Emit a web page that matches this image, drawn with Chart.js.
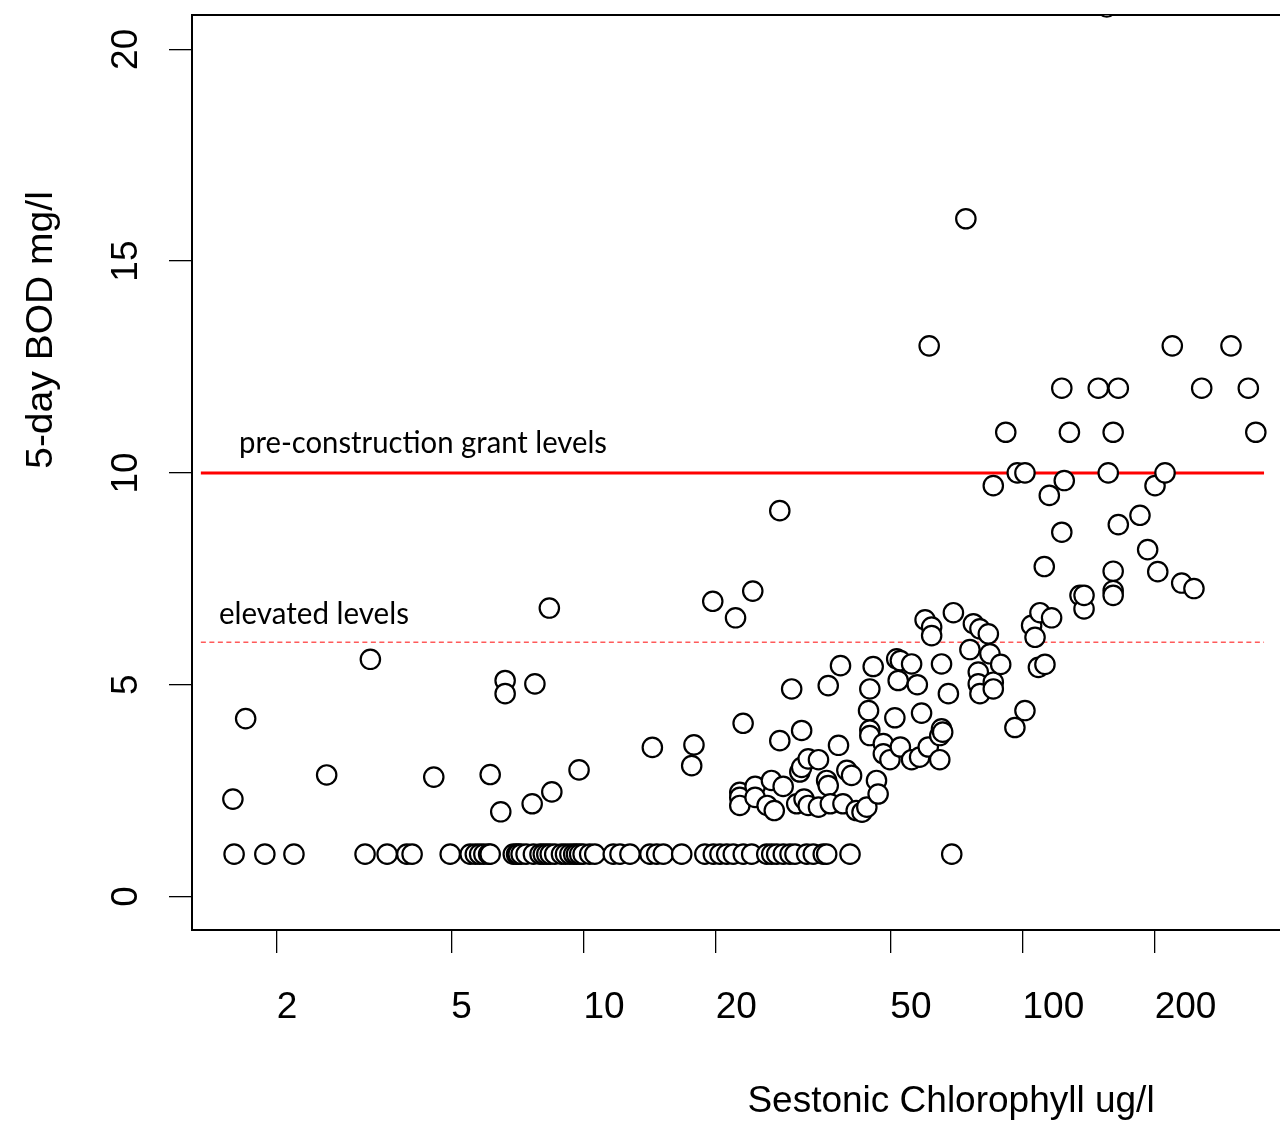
<!DOCTYPE html>
<html>
<head>
<meta charset="utf-8">
<title>5-day BOD vs sestonic chlorophyll</title>
<script src="https://cdn.jsdelivr.net/npm/chart.js@4.4.1/dist/chart.umd.min.js"></script>
<style>
  html, body { margin: 0; padding: 0; background: #fff; overflow: hidden; }
  #wrap { position: relative; width: 1280px; height: 1121px; }
</style>
</head>
<body>
<div id="wrap"><canvas id="bodChart"></canvas></div>
<script>
// Values (x = chlorophyll ug/l, y = 5-day BOD mg/l)
const chlorophyll = [
  // scattered low/mid points
  1.59, 1.70, 2.60, 3.27, 4.56, 6.13, 6.48, 6.63, 6.63, 7.75, 7.64, 8.36, 8.47, 9.77,
  14.35, 17.85, 17.64, 19.70, 22.2, 24.3, 28.0, 23.1, 28.0, 29.8, 31.4, 36.1, 38.5, 38.1,
  // cluster around 2-3 mg/l
  22.7, 22.7, 22.7, 24.6, 24.6, 26.2, 26.8, 27.2, 28.5, 30.6, 31.1, 31.4, 31.8, 32.5,
  32.5, 34.3, 34.3, 35.8, 36.1, 36.5, 39.0, 39.8, 40.8, 41.8, 43.1, 44.2, 46.5, 46.9,
  // 45-90 ug/l
  44.6, 44.9, 44.9, 44.9, 45.7, 48.2, 48.2, 49.9, 51.2, 51.7, 52.7, 52.1, 52.7, 55.9,
  55.9, 57.6, 58.9, 58.3, 60.0, 61.0, 62.1, 62.1, 64.8, 64.8, 65.4, 65.4, 65.8, 67.8,
  69.6, 75.9, 77.3, 80.0, 83.6, 79.3, 79.3, 80.0, 84.3, 85.8, 85.8, 89.2, 61.3, 74.3,
  // upper right
  85.8, 91.6, 97.3, 101.3, 96.1, 101.3, 104.9, 106.8, 108.7, 112.5, 109.6, 116.5, 112.1, 115.1,
  122.9, 124.5, 122.9, 127.9, 135.2, 138.1, 138.1, 148.8, 156.8, 160.9, 160.9, 160.9, 160.9, 165.3,
  165.3, 185.2, 192.8, 200.4, 203.3, 211.2, 219.4, 230.5, 245.8, 256, 298.5, 326.9, 340, 155.6,
  // detection-limit row
  1.60, 1.88, 2.19, 3.18, 3.57, 3.96, 4.07, 4.97, 5.52, 5.67, 5.80, 5.93, 6.08, 6.13, 6.92,
  7.04, 7.10, 7.21, 7.40, 7.69, 7.96, 8.10, 8.25, 8.40, 8.60, 8.91, 9.10, 9.31, 9.50, 9.64,
  9.80, 9.98, 10.33, 10.61, 11.69, 12.11, 12.76, 14.17, 14.68, 15.20, 16.74, 18.90, 19.76, 20.46,
  21.20, 21.94, 23.12, 24.16, 26.15, 26.84, 27.55, 28.52, 29.54, 30.32, 32.24, 33.38, 35.17, 35.81,
  40.47, 69.0
];

const bod = [
  2.30, 4.20, 2.87, 5.60, 2.82, 2.88, 2.00, 5.10, 4.79, 5.02, 2.19, 6.81, 2.47, 2.99,
  3.52, 3.58, 3.09, 6.97, 6.58, 7.21, 9.11, 4.09, 3.68, 4.90, 3.92, 4.98, 5.45, 3.57,

  2.46, 2.34, 2.15, 2.60, 2.34, 2.15, 2.74, 2.03, 2.60, 2.19, 2.94, 3.05, 2.30, 3.25,
  2.15, 3.23, 2.11, 2.74, 2.62, 2.19, 2.19, 2.98, 2.86, 2.03, 1.99, 2.11, 2.74, 2.42,

  4.39, 4.90, 3.93, 3.80, 5.43, 3.61, 3.37, 3.23, 4.22, 5.61, 5.57, 5.10, 3.53, 5.49,
  3.23, 5.00, 4.33, 3.29, 6.53, 3.53, 6.36, 6.16, 3.80, 3.23, 5.49, 3.96, 3.88, 4.79,
  6.70, 5.83, 6.44, 6.32, 6.20, 5.30, 5.02, 4.79, 5.73, 5.06, 4.90, 5.48, 13.0, 16.0,

  9.70, 10.96, 10.0, 10.0, 3.99, 4.39, 6.40, 6.12, 5.41, 5.48, 6.70, 6.58, 7.79, 9.47,
  8.60, 9.82, 12.0, 10.96, 7.11, 6.79, 7.11, 12.0, 10.0, 10.96, 7.68, 7.22, 7.11, 12.0,
  8.78, 9.00, 8.19, 9.70, 7.67, 10.0, 13.0, 7.40, 7.27, 12.0, 13.0, 12.0, 10.96, 21.0,

  1, 1, 1, 1, 1, 1, 1, 1, 1, 1, 1, 1, 1, 1, 1,
  1, 1, 1, 1, 1, 1, 1, 1, 1, 1, 1, 1, 1, 1, 1,
  1, 1, 1, 1, 1, 1, 1, 1, 1, 1, 1, 1, 1, 1,
  1, 1, 1, 1, 1, 1, 1, 1, 1, 1, 1, 1, 1, 1,
  1, 1
];

const xTicks = [2, 5, 10, 20, 50, 100, 200];
const yTicks = [0, 5, 10, 15, 20];
const xRange = [1.283, 386];
const yRange = [-0.79, 20.81];

// reference levels and the chlorophyll span their segments cover
const grantLevel = 10;
const elevatedLevel = 6;
const levelSpan = [1.344, 355];

const axisFont = '"Liberation Sans", Arial, sans-serif';
const noteFont = 'Lato, "Open Sans", sans-serif';

// text that sits on the plot: level notes and the two axis titles
const captions = {
  id: 'captions',
  afterDatasetsDraw(chart) {
    const { ctx, chartArea, scales } = chart;
    const x = scales.x, y = scales.y;
    ctx.save();
    ctx.fillStyle = '#000';
    ctx.textBaseline = 'alphabetic';

    ctx.font = '30px ' + noteFont;
    ctx.textAlign = 'left';
    ctx.fillText('pre-construction grant levels', x.getPixelForValue(1.642), y.getPixelForValue(10.47), 368);
    ctx.fillText('elevated levels', x.getPixelForValue(1.478), y.getPixelForValue(6.43), 190);

    ctx.font = '37px ' + axisFont;
    ctx.textAlign = 'center';
    ctx.fillText('Sestonic Chlorophyll ug/l', chartArea.left + 759, chartArea.bottom + 182);

    // y title: a little longer along its run than the x title, as in the figure
    ctx.translate(chartArea.left - 140, chartArea.top + 315);
    ctx.rotate(-Math.PI / 2);
    ctx.scale(1.055, 1);
    ctx.fillText('5-day BOD mg/l', 0, 0);
    ctx.restore();
  }
};

// keep the plot box where the reference has it, whatever the labels need
const pinX = h => s => { s.height = h; s.paddingLeft = 0; s.paddingRight = 0; };
const pinY = w => s => { s.width = w; s.paddingTop = 0; s.paddingBottom = 0; };

const ctx = document.getElementById('bodChart').getContext('2d');
const points = chlorophyll.map((c, i) => ({ x: c, y: bod[i] }));

new Chart(ctx, {
  type: 'scatter',
  data: {
    datasets: [
      {
        label: 'BOD',
        data: points,
        pointRadius: 9.7,
        pointHoverRadius: 9.7,
        borderWidth: 2.2,
        borderColor: '#000',
        backgroundColor: '#fff',
        clip: 0
      },
      {
        label: 'pre-construction grant levels',
        type: 'line',
        data: levelSpan.map(v => ({ x: v, y: grantLevel })),
        borderColor: '#ff0000',
        borderWidth: 3,
        pointRadius: 0,
        fill: false
      },
      {
        label: 'elevated levels',
        type: 'line',
        data: levelSpan.map(v => ({ x: v, y: elevatedLevel })),
        borderColor: '#ff5a5a',
        borderWidth: 1.5,
        borderDash: [5, 3.5],
        pointRadius: 0,
        fill: false
      }
    ]
  },
  options: {
    responsive: true,
    maintainAspectRatio: false,
    animation: false,
    layout: { padding: { top: 15, left: 0, right: 0, bottom: 0 }, autoPadding: false },
    plugins: {
      legend: { display: false },
      tooltip: { enabled: false }
    },
    scales: {
      x: {
        type: 'logarithmic',
        position: 'bottom',
        min: xRange[0],
        max: xRange[1],
        afterBuildTicks: s => { s.ticks = xTicks.map(v => ({ value: v })); },
        afterFit: pinX(191),
        grid: { drawOnChartArea: false, drawTicks: true, tickLength: 23, color: '#000', lineWidth: 1.3 },
        border: { display: true, color: '#000', width: 2 },
        ticks: {
          align: 'start',
          padding: 33,
          autoSkip: false,
          maxRotation: 0,
          minRotation: 0,
          color: '#000',
          font: { family: axisFont, size: 37 },
          callback: v => String(v)
        }
      },
      y: {
        type: 'linear',
        position: 'left',
        min: yRange[0],
        max: yRange[1],
        afterBuildTicks: s => { s.ticks = yTicks.map(v => ({ value: v })); },
        afterFit: pinY(192),
        grid: { drawOnChartArea: false, drawTicks: true, tickLength: 23, color: '#000', lineWidth: 1.3 },
        border: { display: true, color: '#000', width: 2 },
        ticks: {
          minRotation: 90,
          maxRotation: 90,
          crossAlign: 'center',
          padding: 22,
          color: '#000',
          font: { family: axisFont, size: 37 },
          callback: v => String(v)
        }
      },
      top: {
        type: 'logarithmic',
        position: 'top',
        min: xRange[0],
        max: xRange[1],
        afterFit: pinX(0),
        ticks: { display: false },
        grid: { drawOnChartArea: false, drawTicks: false },
        border: { display: true, color: '#000', width: 2 }
      }
    }
  },
  plugins: [captions]
});
</script>
</body>
</html>
